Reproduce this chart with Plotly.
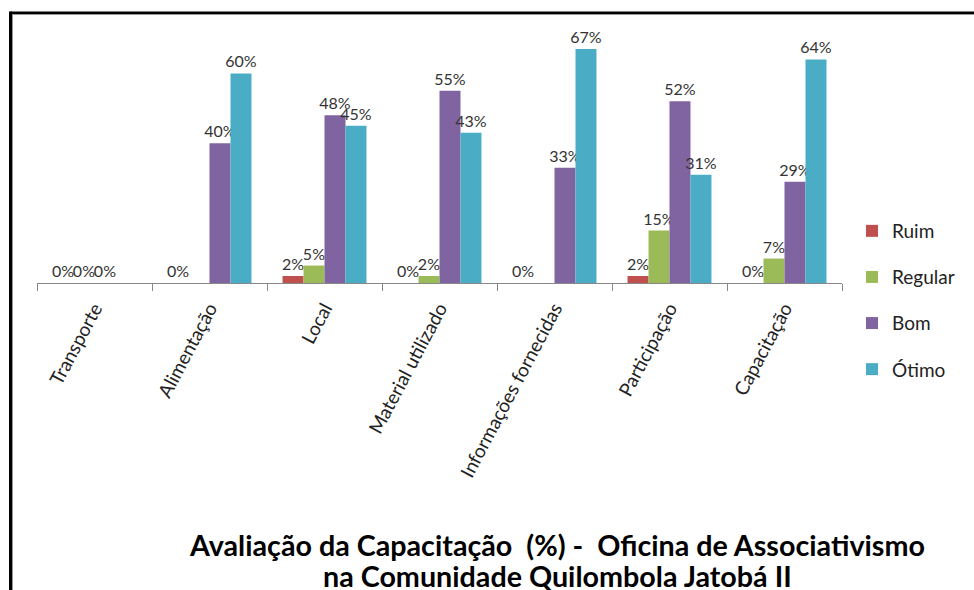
import plotly.graph_objects as go

categories = ["Transporte", "Alimentação", "Local", "Material utilizado",
              "Informações fornecidas", "Participação", "Capacitação"]
ruim = [0, 0, 2, 0, 0, 2, 0]
regular = [0, None, 5, 2, None, 15, 7]
bom = [0, 40, 48, 55, 33, 52, 29]
otimo = [None, 60, 45, 43, 67, 31, 64]

series_names = ["Ruim", "Regular", "Bom", "Ótimo"]
series_values = [ruim, regular, bom, otimo]
colors = ["#C0504D", "#9BBB59", "#8064A2", "#4BACC6"]

title_line1 = "Avaliação da Capacitação  (%) -  Oficina de Associativismo"
title_line2 = "na Comunidade Quilombola Jatobá II"

FONT = "Lato"
W, H = 974, 590
L, R = 37, 842      # plot x pixels
TOP, BASE = 14, 283  # plot y pixels

fig = go.Figure()
for name, vals, col in zip(series_names, series_values, colors):
    fig.add_trace(go.Bar(
        x=categories, y=vals, name=name, marker_color=col,
        marker_line_width=0,
        text=[None if v is None else f"{v}%" for v in vals],
        textposition="outside", cliponaxis=False, constraintext="none",
        textfont=dict(family=FONT, size=16, color="#333333"),
        legendgroup=name,
    ))

def px2x(p):
    return (p - L) / (R - L)

def py2y(p):
    return (BASE - p) / (BASE - TOP)

shapes = [
    dict(type="line", xref="paper", yref="paper", x0=px2x(10.5), x1=px2x(980),
         y0=py2y(13), y1=py2y(13), line=dict(color="black", width=3)),
    dict(type="line", xref="paper", yref="paper", x0=px2x(10.5), x1=px2x(10.5),
         y0=py2y(11.5), y1=py2y(600), line=dict(color="black", width=3)),
    dict(type="line", xref="paper", yref="paper", x0=px2x(12.5), x1=px2x(980),
         y0=py2y(14.5), y1=py2y(14.5), line=dict(color="#999999", width=1)),
    dict(type="line", xref="paper", yref="paper", x0=px2x(12.5), x1=px2x(12.5),
         y0=py2y(14.5), y1=py2y(600), line=dict(color="#999999", width=1)),
]

title_font = dict(family=FONT, size=28.7, color="black")
fig.update_layout(
    width=W, height=H,
    margin=dict(l=L, r=W - R, t=TOP, b=H - BASE),
    paper_bgcolor="white", plot_bgcolor="white",
    barmode="group", bargap=0.27, bargroupgap=0,
    font=dict(family=FONT, color="#222222"),
    showlegend=True,
    legend=dict(x=px2x(852), y=py2y(212), xanchor="left", yanchor="top",
                font=dict(family=FONT, size=19, color="#222222"),
                traceorder="grouped", tracegroupgap=18.4,
                itemwidth=30),
    shapes=shapes,
    annotations=[
        dict(xref="paper", yref="paper", x=px2x(557), y=py2y(545),
             xanchor="center", yanchor="middle", showarrow=False,
             text=f"<b>{title_line1}</b>", font=title_font),
        dict(xref="paper", yref="paper", x=px2x(557), y=py2y(576),
             xanchor="center", yanchor="middle", showarrow=False,
             text=f"<b>{title_line2}</b>", font=title_font),
    ],
)
fig.update_xaxes(
    showline=True, linecolor="#888888", linewidth=1,
    ticks="outside", tickson="boundaries", ticklen=7, tickcolor="#888888",
    tickangle=-62, tickfont=dict(family=FONT, size=19, color="#222222"),
    ticklabelstandoff=6,
    showgrid=False,
)
fig.update_yaxes(range=[0, 77], visible=False, showgrid=False)

fig.write_html("out.html", config={"displayModeBar": False},
               post_script="document.body.style.margin='0';")
